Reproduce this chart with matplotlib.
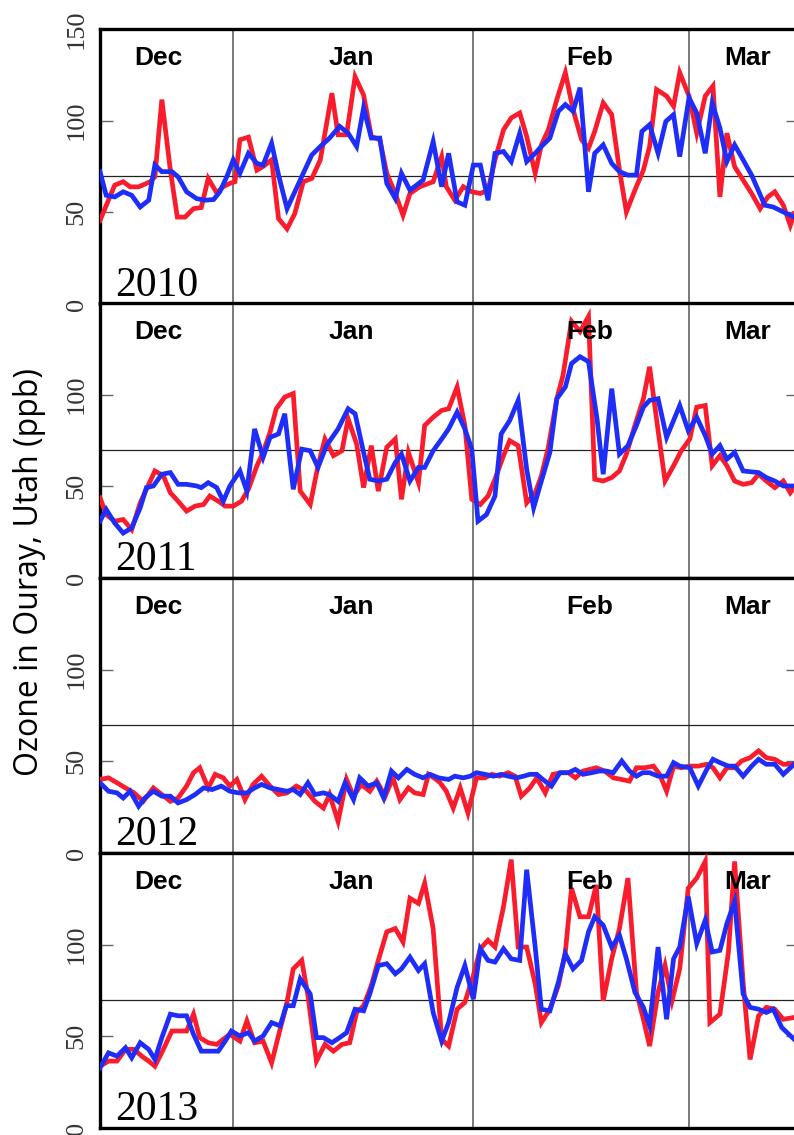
import matplotlib

matplotlib.use("Agg")
import matplotlib.pyplot as plt
from matplotlib.ticker import FixedFormatter

# x values are days counted from 1 January (Dec < 0)
MONTHS = ["Dec", "Jan", "Feb", "Mar"]
MONTH_LABEL_DAY = [-9.6, 15.3, 46.2, 66.6]
MONTH_EDGES = [0, 31, 59]
YEARS = ["2010", "2011", "2012", "2013"]
THRESHOLD = 70
YTICKS = [0, 50, 100, 150]

# ---- 2010
red_2010_day = [-17.2, -15.3, -14.2, -13.3, -12.2, -10.7, -10.1, -9.2, -8.1, -7.2,
                -6.2, -5.1, -4.1, -3.2, -2.1, -1.25, -0.4, 0.26, 0.9, 2.0,
                3.1, 3.9, 5.0, 5.9, 7.0, 8.0, 9.1, 10.2, 11.3, 12.8,
                13.6, 14.7, 15.8, 16.9, 17.9, 19.0, 19.9, 21.0, 22.0, 22.9,
                24.2, 25.9, 27.0, 27.6, 28.7, 29.8, 30.9, 32.0, 33.0, 33.9,
                35.0, 36.0, 37.1, 38.0, 39.1, 39.9, 40.8, 41.9, 43.0, 44.0,
                45.1, 46.0, 46.8, 47.9, 49.0, 50.0, 50.9, 52.0, 53.1, 53.9,
                54.8, 56.1, 57.0, 57.8, 59.0, 60.0, 61.1, 62.1, 63.0, 63.9,
                64.9, 66.0, 67.1, 68.2, 69.2, 70.1, 71.2, 72.1, 72.6]
red_2010 = [45.6, 64.8, 66.7, 63.9, 63.9, 66.7, 69.4, 111.5, 73, 47.4,
            47.4, 52, 52.6, 68.5, 60.6, 64, 65.8, 66.7, 89.6, 91,
            73, 75, 78.6, 46.5, 41, 49.3, 66.7, 68.5, 78.6, 115,
            92.3, 92.3, 124, 114, 91.4, 89.6, 71.3, 60.3, 48.4, 60.3,
            64, 66.7, 80.4, 64, 56.6, 64, 61.2, 60.3, 62.1, 78.6,
            95, 101.5, 104.2, 91.4, 71.3, 86.8, 95, 111.5, 126.2, 106,
            89.6, 85, 94.1, 109.7, 103.3, 73.1, 50.2, 62.1, 73.1, 85.9,
            117, 113.4, 107.9, 126.2, 113.4, 93.2, 113.4, 118.9, 58.4, 93.2,
            74.9, 67.6, 60.3, 52, 58.4, 61.2, 53.9, 42.9, 49.3]
blue_2010_day = [-17.2, -16.4, -15.3, -14.2, -13.1, -12.0, -10.9, -10.1, -9.2, -7.9,
                 -7.1, -6.0, -4.7, -3.6, -2.5, -1.7, -0.8, 0.04, 0.9, 2.0,
                 3.1, 3.9, 5.0, 5.9, 7.0, 8.0, 9.1, 10.2, 11.3, 12.5,
                 13.8, 14.9, 16.0, 16.9, 17.9, 19.0, 19.9, 21.0, 21.8, 22.9,
                 24.6, 25.9, 27.0, 27.9, 29.0, 30.0, 31.1, 32.0, 33.0, 33.9,
                 35.0, 36.0, 37.1, 38.0, 39.1, 39.9, 41.0, 42.1, 43.0, 44.0,
                 44.9, 46.0, 46.8, 47.9, 49.0, 50.0, 51.1, 52.2, 52.9, 53.9,
                 55.0, 56.0, 57.0, 57.8, 59.0, 60.0, 61.1, 62.0, 63.0, 63.9,
                 64.9, 66.0, 67.1, 68.8, 69.9, 71.2, 72.6]
blue_2010 = [72.2, 59.3, 58.4, 61.2, 59.3, 52.9, 56.6, 75.8, 72.2, 72.2,
             69.4, 61.2, 57.5, 56.6, 57, 61.2, 69.4, 78.6, 71.3, 82.2,
             76.7, 75.8, 87.7, 70.3, 52, 61.2, 71.3, 81.3, 85.9, 90.5,
             96.9, 93.2, 85.9, 107, 90.5, 90.5, 65.8, 57.5, 71.3, 62.1,
             67.6, 88.6, 64, 82.2, 55.7, 53.9, 75.8, 75.8, 56.6, 82.2,
             83.2, 77.7, 93.2, 77.7, 82.2, 85.9, 90.5, 105.1, 108.8, 105.1,
             118, 61.2, 82.2, 86.8, 76.7, 72.2, 70.3, 70.3, 94.1, 97.8,
             82.2, 99.6, 103.3, 80.4, 112.5, 104.2, 82.2, 109.7, 96, 77.7,
             86.8, 78.6, 70.3, 53.9, 52.9, 50.2, 47.4]

# ---- 2011
red_2011_day = [-17.2, -16.4, -15.3, -14.2, -13.1, -12.0, -10.9, -10.1, -9.0, -8.1,
                -7.1, -6.0, -4.9, -3.8, -3.0, -1.9, -1.0, 0.04, 1.1, 2.0,
                3.1, 3.9, 4.8, 5.6, 6.7, 7.8, 8.7, 10.0, 11.0, 11.9,
                13.0, 14.1, 14.9, 16.0, 16.9, 17.9, 18.8, 19.9, 21.0, 21.8,
                22.7, 24.0, 24.8, 25.9, 27.0, 27.9, 29.0, 30.0, 30.9, 32.0,
                33.0, 33.9, 35.0, 35.8, 36.9, 38.0, 39.1, 39.9, 40.8, 41.9,
                42.7, 43.8, 44.9, 46.0, 46.8, 47.9, 49.0, 50.0, 50.9, 52.0,
                53.1, 53.9, 55.0, 55.9, 57.0, 58.0, 59.1, 60.0, 61.1, 62.0,
                63.0, 63.9, 64.9, 66.0, 67.1, 68.0, 69.0, 70.1, 71.2, 72.1,
                72.6]
red_2011 = [43.8, 34.6, 31, 31.9, 26.4, 41, 51.1, 58.4, 55.7, 46.5,
            41.9, 36.5, 39.2, 40.1, 44.7, 41.9, 39.2, 39.2, 41.9, 48.4,
            61.2, 68.5, 79.5, 92.3, 98.7, 100.6, 47.4, 40.1, 61.2, 75.8,
            66.7, 69.4, 86.8, 73.1, 49.3, 72.2, 47.4, 71.3, 75.8, 42.9,
            68.5, 52, 83.2, 87.7, 91.4, 92.3, 104.2, 83.2, 42.9, 40.1,
            44.7, 53.9, 66.7, 74.9, 72.2, 41, 46.5, 55.7, 71.3, 97.8,
            110.6, 140, 134.4, 142.7, 53.9, 52.9, 54.8, 58.4, 67.6, 83.2,
            97.8, 115.2, 80.4, 52.9, 61.2, 69.4, 75.8, 93.2, 94.1, 61.2,
            66.7, 61.2, 52.9, 51.1, 52, 56.6, 52.9, 49.3, 52.9, 46.5,
            49.3]
blue_2011_day = [-17.2, -16.4, -15.3, -14.2, -13.1, -12.0, -11.2, -10.3, -9.2, -8.1,
                 -7.1, -6.0, -4.7, -4.1, -3.2, -2.1, -1.25, -0.4, 0.9, 1.8,
                 2.8, 3.9, 4.8, 5.9, 6.7, 7.8, 8.9, 10.0, 11.0, 12.1,
                 13.6, 14.9, 15.8, 16.9, 17.7, 18.8, 19.9, 21.0, 21.8, 22.9,
                 24.0, 24.8, 25.9, 27.0, 27.9, 29.0, 30.0, 30.9, 31.7, 32.8,
                 33.9, 34.7, 35.8, 36.9, 38.0, 38.9, 39.9, 41.0, 41.9, 43.0,
                 43.8, 44.9, 46.0, 47.1, 47.9, 49.0, 50.0, 51.1, 52.2, 53.1,
                 53.9, 55.0, 56.1, 57.0, 57.8, 58.9, 60.0, 61.1, 62.0, 63.0,
                 63.9, 64.9, 66.0, 68.0, 69.0, 70.1, 71.2, 72.6]
blue_2011 = [31, 37.4, 30, 24.5, 27.3, 38.3, 49.3, 50.2, 56.6, 57.5,
             51.1, 51.1, 50.2, 49.3, 52, 49.3, 41.9, 50.2, 58.4, 47.4,
             81.3, 65.8, 76.7, 78.6, 89.6, 48.4, 70.3, 69.4, 60.3, 72.2,
             81.3, 92.3, 89.6, 68.5, 53.9, 52.9, 53.9, 63, 67.6, 52.9,
             60.3, 60.3, 69.4, 75.8, 81.3, 90.5, 81.3, 70.3, 31, 34.6,
             44.7, 78.6, 85.9, 96.9, 59.3, 38.3, 52.9, 68.5, 97.8, 104.2,
             117, 120.7, 118, 86.8, 56.6, 103.3, 67.6, 72.2, 83.2, 93.2,
             96.9, 97.8, 76.7, 85.9, 94.1, 80.4, 87.7, 77.7, 67.6, 72.2,
             64.8, 68.5, 58.4, 57.5, 54.8, 52.9, 50.2, 50.2]

# ---- 2012
red_2012_day = [-17.2, -16.1, -15.0, -13.9, -12.8, -11.6, -10.3, -9.2, -8.1, -7.1,
                -6.0, -5.1, -4.3, -3.2, -2.3, -1.25, -0.4, 0.5, 1.55, 2.6,
                3.7, 4.8, 5.9, 7.0, 8.2, 9.5, 10.6, 11.7, 12.5, 13.6,
                14.7, 15.6, 16.6, 17.7, 18.6, 19.7, 20.7, 21.6, 22.7, 23.5,
                24.6, 25.3, 26.3, 26.8, 27.6, 28.5, 29.4, 30.4, 31.5, 32.6,
                33.5, 34.5, 35.6, 36.5, 37.3, 38.4, 39.3, 40.4, 41.4, 42.5,
                43.4, 44.3, 45.3, 47.0, 48.1, 49.2, 50.3, 51.3, 52.2, 53.3,
                54.4, 55.2, 56.1, 57.0, 58.0, 59.1, 60.2, 61.3, 62.1, 63.0,
                63.9, 64.9, 65.8, 66.9, 68.0, 69.0, 70.1, 71.2, 72.6]
red_2012 = [40.1, 41, 38.3, 35.5, 32.8, 28.2, 35.5, 31.9, 28.2, 30,
            36.5, 43.8, 46.5, 35.5, 42.9, 41, 36.5, 40.1, 29.1, 37.4,
            41.9, 36.5, 31.9, 32.8, 36.5, 33.7, 28.2, 24.5, 31.9, 17.2,
            40.1, 31, 37.4, 33.7, 39.2, 31, 41, 29.1, 35.5, 32.8,
            31.9, 42.9, 40.1, 38.3, 33.7, 24.5, 35.5, 21.8, 41, 41,
            42.9, 41.9, 43.8, 41.9, 31, 35.5, 41, 32.8, 42.9, 43.8,
            43.8, 41, 44.7, 46.5, 44.7, 41, 40.1, 39.2, 46.5, 46.5,
            47.4, 42.9, 33.7, 47.4, 46.5, 47.4, 47.4, 48.4, 46.5, 41,
            46.5, 46.5, 50.2, 52, 55.7, 52, 51.1, 48.4, 48.4]
blue_2012_day = [-17.2, -16.1, -15.0, -14.2, -13.3, -12.2, -11.4, -10.3, -9.2, -8.1,
                 -7.1, -6.0, -4.9, -3.8, -2.7, -1.5, -0.4, 0.7, 1.8, 2.8,
                 3.7, 4.8, 5.9, 7.0, 7.8, 8.7, 9.7, 10.6, 11.7, 12.5,
                 13.6, 14.5, 15.6, 16.4, 17.5, 18.6, 19.5, 20.5, 21.4, 22.5,
                 23.5, 24.6, 25.5, 26.6, 27.9, 28.7, 29.8, 30.7, 31.5, 32.6,
                 33.7, 34.7, 35.6, 36.7, 37.6, 38.4, 39.3, 40.1, 41.2, 42.3,
                 43.4, 44.3, 45.3, 46.4, 47.4, 48.3, 49.2, 50.3, 51.3, 52.2,
                 53.0, 53.9, 55.0, 56.1, 57.0, 57.8, 59.1, 60.2, 61.3, 62.1,
                 63.0, 64.1, 64.9, 66.0, 67.1, 68.0, 69.0, 70.1, 71.2, 72.6]
blue_2012 = [38.3, 33.7, 32.8, 30, 33.7, 25.5, 30, 33.7, 31, 31,
             27.3, 29.1, 31.9, 35.5, 34.6, 36.5, 33.7, 32.8, 32.8, 35.5,
             37.4, 35.5, 34.6, 33.7, 34.6, 31.9, 38.3, 31.9, 32.8, 31.9,
             28.2, 38.3, 29.1, 41, 36.5, 38.3, 30, 44.7, 41, 45.6,
             42.9, 41, 42.9, 41, 40.1, 41.9, 41, 41.9, 43.8, 42.9,
             41.9, 42.9, 41.9, 41, 41.9, 42.9, 42.9, 40.1, 36.5, 43.8,
             43.8, 45.6, 42.9, 43.8, 44.7, 44.7, 43.8, 50.2, 44.7, 41.9,
             43.8, 43.8, 41.9, 41.9, 49.3, 47.4, 46.5, 36.5, 45.6, 51.1,
             49.3, 47.4, 47.4, 41.9, 47.4, 51.1, 48.4, 48.4, 42.9, 48.4]

# ---- 2013
red_2013_day = [-17.2, -16.1, -15.0, -13.9, -12.8, -11.8, -10.9, -10.1, -9.0, -7.9,
                -6.9, -6.0, -5.1, -4.3, -3.2, -2.1, -1.25, -0.4, 0.9, 1.8,
                2.8, 3.9, 5.0, 6.1, 6.9, 7.8, 8.9, 9.7, 10.8, 11.9,
                13.0, 14.1, 15.1, 16.0, 16.9, 17.9, 18.8, 19.9, 21.0, 22.0,
                22.9, 24.0, 24.8, 25.9, 27.0, 27.9, 29.0, 30.0, 31.1, 32.0,
                33.0, 33.9, 35.0, 36.0, 36.9, 38.0, 39.1, 39.9, 41.0, 42.1,
                43.0, 43.8, 44.9, 46.0, 47.0, 47.9, 49.0, 50.0, 51.1, 52.2,
                53.1, 53.9, 55.0, 55.9, 56.8, 57.8, 58.9, 60.0, 61.1, 61.7,
                63.0, 64.1, 64.9, 66.0, 66.9, 68.0, 69.0, 70.1, 71.2, 72.6]
red_2013 = [33.7, 36.5, 36.5, 42.9, 42.9, 39.2, 36.5, 33.7, 42.9, 52.9,
            52.9, 52.9, 62.1, 49.3, 46.5, 45.6, 48.4, 51.1, 47.4, 58.4,
            46.5, 47.4, 35.5, 53.9, 66.7, 86.8, 91.4, 72.2, 36.5, 45.6,
            41.9, 45.6, 46.5, 63, 66.7, 77.7, 91.4, 107, 108.8, 101.5,
            125.3, 122.5, 133.5, 108.8, 48.4, 44.7, 64.8, 68.5, 83.2, 97.8,
            102.4, 98.7, 120.7, 146.4, 98.7, 98.7, 78.6, 57.5, 64.8, 77.7,
            96, 130.8, 115.2, 115.2, 132.6, 69.4, 92.3, 108.8, 136.3, 74,
            59.3, 44.7, 74, 88.6, 69.4, 86.8, 130.8, 136.3, 145.4, 57.5,
            62.1, 96, 145.4, 79.5, 37.4, 61.2, 65.8, 64.8, 59.3, 60.3]
blue_2013_day = [-17.2, -16.1, -15.0, -13.9, -13.1, -12.0, -10.9, -10.1, -9.2, -8.1,
                 -7.1, -6.0, -5.1, -4.1, -3.0, -1.9, -1.0, -0.2, 0.9, 2.0,
                 2.8, 3.9, 5.0, 6.1, 6.9, 7.8, 8.7, 10.0, 10.8, 11.7,
                 12.8, 13.8, 14.7, 15.8, 16.9, 17.7, 18.8, 19.9, 21.0, 21.8,
                 22.9, 24.0, 24.8, 25.9, 27.0, 27.9, 29.0, 30.0, 31.1, 32.0,
                 33.0, 33.9, 35.0, 36.0, 37.1, 38.0, 39.1, 39.9, 41.0, 42.1,
                 43.0, 44.0, 45.1, 46.0, 46.8, 47.9, 49.0, 50.0, 50.9, 52.0,
                 53.1, 53.9, 55.0, 56.1, 57.0, 57.8, 58.9, 60.0, 61.1, 62.0,
                 63.0, 63.9, 64.9, 66.0, 66.9, 68.0, 69.0, 69.9, 71.0, 72.6]
blue_2013 = [32.8, 41, 39.2, 43.8, 38.3, 46.5, 42.9, 37.4, 49.3, 62.1,
             61.2, 61.2, 51.1, 41.9, 41.9, 41.9, 47.4, 52.9, 50.2, 52,
             47.4, 50.2, 57.5, 55.7, 66.7, 66.7, 81.3, 73.1, 49.3, 49.3,
             46.5, 49.3, 52, 64.8, 63.9, 73.1, 88.6, 89.6, 84.1, 86.8,
             93.2, 85.9, 89.6, 63, 47.4, 57.5, 76.7, 88.6, 70.3, 97.8,
             91.4, 90.5, 97.8, 92.3, 91.4, 140.9, 98.7, 64.8, 63.9, 79.5,
             95, 86.8, 91.4, 107, 115.2, 110.6, 98.7, 105.1, 92.3, 74,
             65.8, 55.7, 98.7, 59.3, 92.3, 98.7, 126.2, 100.6, 113.4, 96,
             96.9, 111.5, 123.5, 73.1, 65.8, 64.8, 63, 64.8, 54.8, 48.4]

red_days = [red_2010_day, red_2011_day, red_2012_day, red_2013_day]
red_vals = [red_2010, red_2011, red_2012, red_2013]
blue_days = [blue_2010_day, blue_2011_day, blue_2012_day, blue_2013_day]
blue_vals = [blue_2010, blue_2011, blue_2012, blue_2013]

RED = "#F81C2C"
BLUE = "#1E2EF8"

plt.rcParams["font.family"] = ["Liberation Serif", "DejaVu Serif"]
plt.rcParams["ytick.labelsize"] = 19
plt.rcParams["ytick.labelcolor"] = "#333333"

W, H = 794, 1135
fig = plt.figure(figsize=(W / 100, H / 100), dpi=100)

left_px, right_px = 100, 798
panel_tops = [29, 303, 578, 853]
panel_h = 275

for k in range(4):
    top = panel_tops[k]
    ax = fig.add_axes([left_px / W, 1 - (top + panel_h) / H,
                       (right_px - left_px) / W, panel_h / H])
    ax.set_xlim(-17.2, 73.1)
    ax.set_ylim(0, 150)

    for d in MONTH_EDGES:
        ax.axvline(d, color="#7a7a7a", lw=1.4, zorder=1)
    ax.axhline(THRESHOLD, color="#222222", lw=0.9, zorder=1)

    ax.plot(red_days[k], red_vals[k], color=RED, lw=3.4, zorder=3,
            solid_joinstyle="miter")
    ax.plot(blue_days[k], blue_vals[k], color=BLUE, lw=3.4, zorder=4,
            solid_joinstyle="miter")

    for name, d in zip(MONTHS, MONTH_LABEL_DAY):
        ax.text(d, 0.895, name, transform=ax.get_xaxis_transform(),
                ha="center", va="center", fontsize=19, fontweight="bold",
                family="Liberation Sans", color="black", zorder=5)
    ax.text(0.022, 0.03, YEARS[k], transform=ax.transAxes, ha="left",
            va="baseline", fontsize=30, family="Liberation Serif",
            color="black", zorder=6)

    ax.set_xticks([])
    ax.set_yticks(YTICKS)
    labels = [str(v) for v in YTICKS]
    if k > 0:
        labels[-1] = ""
    ax.yaxis.set_major_formatter(FixedFormatter(labels))
    ax.tick_params(axis="y", direction="in", length=9, width=1.0,
                   color="#666666", pad=9, right=True, labelrotation=90)
    for t in ax.get_yticklabels():
        t.set_verticalalignment("center")

    for side in ["top", "bottom", "left", "right"]:
        ax.spines[side].set_linewidth(2.4)
        ax.spines[side].set_color("black")

fig.text(30 / W, 1 - 572 / H, "Ozone in Ouray, Utah (ppb)", rotation=90,
         ha="center", va="center", fontsize=23, family="Open Sans",
         color="black")

fig.savefig("out.png", dpi=100)
